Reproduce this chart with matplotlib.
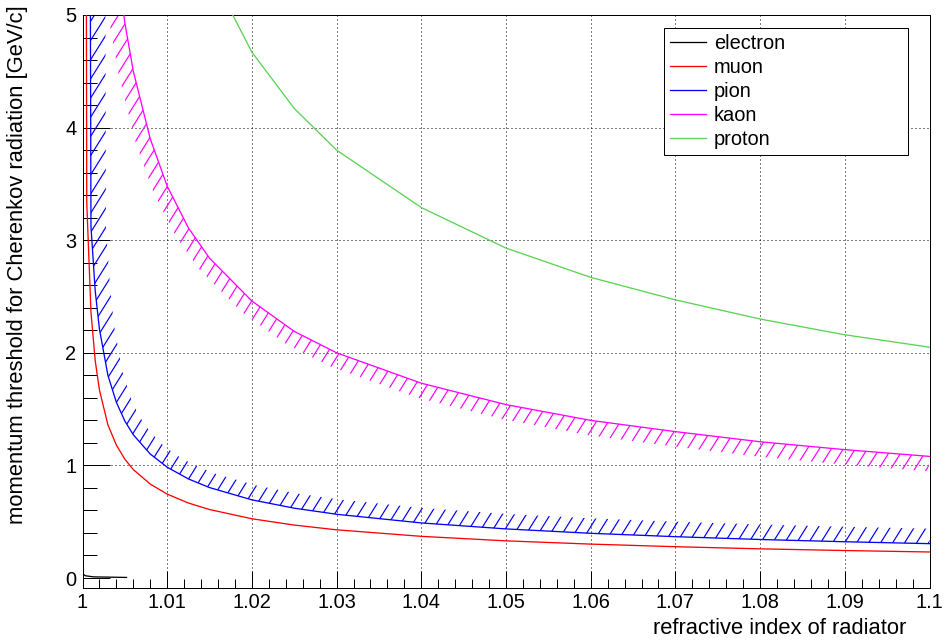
import numpy as np
import matplotlib
matplotlib.use('Agg')
import matplotlib.pyplot as plt
from matplotlib.ticker import MultipleLocator
from matplotlib.collections import LineCollection
from matplotlib.patches import Polygon
from matplotlib.transforms import IdentityTransform

plt.rcParams['font.family'] = ['Liberation Sans', 'DejaVu Sans']

# refractive index samples and threshold momenta [GeV/c]
n_grid = [1.00001, 1.0005, 1.001, 1.0015, 1.002, 1.003, 1.004, 1.005, 1.006, 1.008,
          1.010, 1.0125, 1.015, 1.02, 1.025, 1.03, 1.04, 1.05, 1.06, 1.07, 1.08, 1.09, 1.10]
n_pion = [1.00001, 1.001, 1.0015, 1.002, 1.003, 1.004, 1.005, 1.006, 1.008,
          1.010, 1.0125, 1.015, 1.02, 1.025, 1.03, 1.04, 1.05, 1.06, 1.07, 1.08, 1.09, 1.10]
n_electron = [1.00008, 1.00015, 1.00033, 1.0013, 1.0052]

p_electron = [0.04, 0.03, 0.02, 0.01, 0.005]
p_muon = [23.6, 3.34, 2.36, 1.93, 1.67, 1.36, 1.18, 1.055, 0.963, 0.834, 0.745, 0.666,
          0.608, 0.526, 0.470, 0.428, 0.370, 0.330, 0.301, 0.278, 0.259, 0.244, 0.231]
p_pion = [31.2, 3.12, 2.55, 2.21, 1.80, 1.56, 1.394, 1.272, 1.101, 0.984, 0.880,
          0.803, 0.694, 0.620, 0.566, 0.489, 0.436, 0.397, 0.367, 0.342, 0.322, 0.305]
p_kaon = [110.0, 15.6, 11.0, 9.01, 7.80, 6.37, 5.51, 4.93, 4.50, 3.90, 3.48, 3.11,
          2.84, 2.46, 2.19, 2.00, 1.73, 1.54, 1.40, 1.30, 1.21, 1.14, 1.08]
p_proton = [210.0, 29.7, 21.0, 17.1, 14.8, 12.1, 10.5, 9.37, 8.55, 7.40, 6.62, 5.92,
            5.40, 4.67, 4.17, 3.80, 3.29, 2.93, 2.67, 2.47, 2.30, 2.16, 2.05]

x_ticks = [1.0, 1.01, 1.02, 1.03, 1.04, 1.05, 1.06, 1.07, 1.08, 1.09, 1.1]
x_tick_labels = ['1', '1.01', '1.02', '1.03', '1.04', '1.05', '1.06', '1.07', '1.08', '1.09', '1.1']
y_ticks = [0, 1, 2, 3, 4, 5]
y_tick_labels = ['0', '1', '2', '3', '4', '5']

W, H = 946, 641
fig = plt.figure(figsize=(W / 72, H / 72), dpi=72)
ax = fig.add_axes([82.5 / W, 1 - 588 / H, 847 / W, 573 / H])
ax.set_xlim(1.0, 1.1)
ax.set_ylim(-0.0888, 5.0)

ax.set_xticks(x_ticks)
ax.set_xticklabels(x_tick_labels)
ax.set_yticks(y_ticks)
ax.set_yticklabels(y_tick_labels)
ax.xaxis.set_minor_locator(MultipleLocator(0.002))
ax.yaxis.set_minor_locator(MultipleLocator(0.2))
ax.tick_params(axis='x', which='major', direction='in', length=17, width=1, labelsize=20, pad=5)
ax.tick_params(axis='x', which='minor', direction='in', length=9, width=1)
ax.tick_params(axis='y', which='major', direction='in', length=27, width=1, labelsize=20, pad=6)
ax.tick_params(axis='y', which='minor', direction='in', length=13.5, width=1)
for s in ax.spines.values():
    s.set_linewidth(1.0)

dots = (0, (1, 3))
for xt in x_ticks[1:-1]:
    ax.axvline(xt, color='black', lw=1, ls=dots, zorder=1)
for yt in y_ticks[1:-1]:
    ax.axhline(yt, color='black', lw=1, ls=dots, zorder=1)


def hatch_band(x, y, width, side, color, step=12, slope=1.6):
    # band of constant pixel width along one side of the curve, "/" hatched
    pts = ax.transData.transform(np.column_stack([x, y]))
    seg = np.diff(pts, axis=0)
    u = seg / np.hypot(seg[:, 0], seg[:, 1])[:, None]
    t = np.vstack([u[:1], u[:-1] + u[1:], u[-1:]])
    t = t / np.hypot(t[:, 0], t[:, 1])[:, None]
    nrm = np.column_stack([-t[:, 1], t[:, 0]]) * side
    outer = pts + width * nrm
    poly = np.vstack([pts, outer[::-1]])
    d = ax.transData.inverted().transform(poly)
    patch = Polygon(d, closed=True, facecolor='none', edgecolor='none')
    ax.add_patch(patch)
    x0, y0, x1, y1 = ax.bbox.extents
    dx = (y1 - y0) / slope
    segs = [[(c, y0), (c + dx, y1)] for c in np.arange(x0 - dx, x1, step)]
    lc = LineCollection(segs, colors=color, linewidths=1.2,
                        transform=IdentityTransform(), zorder=2)
    lc.set_clip_path(patch)
    ax.add_collection(lc, autolim=False)


hatch_band(n_pion, p_pion, 15, 1, 'blue')
hatch_band(n_grid, p_kaon, 15, -1, 'magenta')

lw = 1.3
l_e, = ax.plot(n_electron, p_electron, color='black', lw=lw, zorder=3)
l_mu, = ax.plot(n_grid, p_muon, color='red', lw=lw, zorder=3)
l_pi, = ax.plot(n_pion, p_pion, color='blue', lw=lw, zorder=3)
l_k, = ax.plot(n_grid, p_kaon, color='magenta', lw=lw, zorder=3)
l_p, = ax.plot(n_grid, p_proton, color='#59d354', lw=lw, zorder=3)

leg = fig.legend([l_e, l_mu, l_pi, l_k, l_p], ['electron', 'muon', 'pion', 'kaon', 'proton'],
                 loc='upper left', bbox_to_anchor=(664 / W, 1 - 157 / H, 244 / W, 129 / H),
                 mode='expand', fontsize=20, frameon=True, fancybox=False, framealpha=1,
                 handlelength=1.8, handletextpad=0.4, labelspacing=0.25,
                 borderpad=0.3, borderaxespad=0)
leg.get_frame().set_edgecolor('black')
leg.get_frame().set_linewidth(1.0)

fig.text(906 / W, 1 - 628 / H, 'refractive index of radiator', ha='right', va='center', fontsize=22)
fig.text(18 / W, 1 - 5 / H, 'momentum threshold for Cherenkov radiation [GeV/c]',
         rotation=90, ha='center', va='top', fontsize=22)

fig.savefig('out.png', dpi=72)
